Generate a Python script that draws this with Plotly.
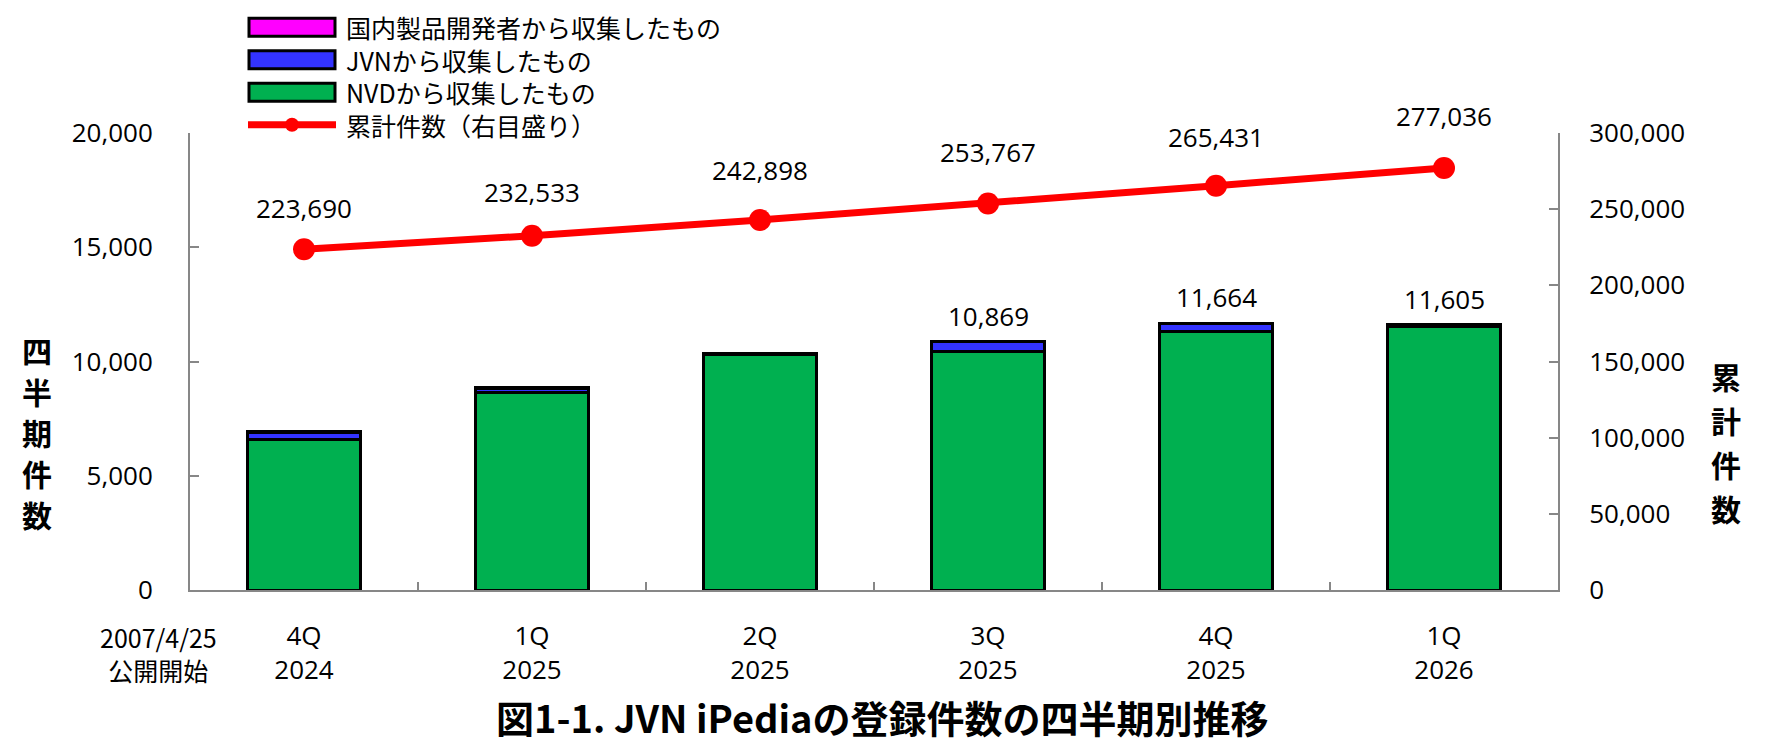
import plotly.graph_objects as go

# ---- data ----
categories = ["4Q<br>2024", "1Q<br>2025", "2Q<br>2025", "3Q<br>2025", "4Q<br>2025", "1Q<br>2026"]
nvd_counts = [6590, 8640, 10300, 10440, 11320, 11520]
jvn_counts = [320, 198, 60, 424, 339, 80]
domestic_counts = [5, 5, 5, 5, 5, 5]
cumulative = [223690, 232533, 242898, 253767, 265431, 277036]
bar_label_text = ["", "", "", "10,869", "11,664", "11,605"]

series_names = ["国内製品開発者から収集したもの", "JVNから収集したもの", "NVDから収集したもの", "累計件数（右目盛り）"]
left_title = "四半期件数"
right_title = "累計件数"
chart_title = "図1-1. JVN iPediaの登録件数の四半期別推移"
start_note = "2007/4/25<br>公開開始"

# ---- style ----
PAGE_W, PAGE_H = 1767, 756
OFF = 8  # default body margin of the html page
L, R, T, B = 190, 1558, 133, 590
NUM_FONT = "Open Sans, Noto Sans CJK JP, sans-serif"
JP_FONT = "Noto Sans CJK JP, sans-serif"
GREEN, BLUE, MAGENTA, RED = "#00B050", "#3333FF", "#FF00FF", "#FF0000"
AXIS = "#878787"
cum_label_shift = [41, 44, 50, 51, 49, 52]
LEG_FONT = 25
LEG_PITCH = 1.3 * LEG_FONT
LEG_MID = 76


def xp(px):
    return (px - L) / (R - L)


def yp(py):
    return (B - py) / (B - T)


fig = go.Figure()
fig.add_trace(go.Bar(x=categories, y=nvd_counts, name=series_names[2],
                     marker=dict(color=GREEN, line=dict(color="black", width=3)),
                     showlegend=False, hoverinfo="skip"))
fig.add_trace(go.Bar(x=categories, y=jvn_counts, name=series_names[1],
                     marker=dict(color=BLUE, line=dict(color="black", width=3)),
                     showlegend=False, hoverinfo="skip"))
fig.add_trace(go.Bar(x=categories, y=domestic_counts, name=series_names[0],
                     marker=dict(color=MAGENTA, line=dict(color="black", width=3)),
                     showlegend=False, hoverinfo="skip"))
fig.add_trace(go.Scatter(x=categories, y=cumulative, yaxis="y2", mode="lines+markers",
                         name=series_names[3],
                         line=dict(color=RED, width=7),
                         marker=dict(color=RED, size=22),
                         showlegend=False, hoverinfo="skip"))

annotations = []
# cumulative labels
for c, v, s in zip(categories, cumulative, cum_label_shift):
    annotations.append(dict(x=c, y=v, xref="x", yref="y2", text=f"{v:,}", showarrow=False,
                            yshift=s, font=dict(family=NUM_FONT, size=26, color="black")))
# bar total labels
for c, n, j, d, t in zip(categories, nvd_counts, jvn_counts, domestic_counts, bar_label_text):
    if t:
        annotations.append(dict(x=c, y=n + j + d, xref="x", yref="y", text=t, showarrow=False,
                                yshift=26, font=dict(family=NUM_FONT, size=26, color="black")))

# axis titles (vertical stacked characters)
for i, ch in enumerate(left_title):
    annotations.append(dict(x=xp(37), y=yp(350 + 41 * i), xref="paper", yref="paper", text=ch,
                            showarrow=False, xanchor="center", yanchor="middle",
                            font=dict(family=JP_FONT, size=30, color="black", weight="bold")))
for i, ch in enumerate(right_title):
    annotations.append(dict(x=xp(1726), y=yp(376 + 44 * i), xref="paper", yref="paper", text=ch,
                            showarrow=False, xanchor="center", yanchor="middle",
                            font=dict(family=JP_FONT, size=30, color="black", weight="bold")))

# start note
annotations.append(dict(x=xp(158), y=yp(653), xref="paper", yref="paper", text=start_note,
                        showarrow=False, xanchor="center", yanchor="middle", align="center",
                        font=dict(family=JP_FONT, size=25, color="black")))
# chart title
annotations.append(dict(x=xp(882), y=yp(716), xref="paper", yref="paper", text=chart_title,
                        showarrow=False, xanchor="center", yanchor="middle",
                        font=dict(family=JP_FONT, size=38, color="black", weight="bold")))

# manual legend (one text block, swatches aligned with its lines)
shapes = []
row_y = [LEG_MID + (i - 1.5) * LEG_PITCH for i in range(4)]
swatch_colors = [MAGENTA, BLUE, GREEN]
for cy, col in zip(row_y[:3], swatch_colors):
    shapes.append(dict(type="rect", xref="paper", yref="paper",
                       x0=xp(249), x1=xp(335), y0=yp(cy - 9), y1=yp(cy + 9),
                       fillcolor=col, line=dict(color="black", width=3)))
cy = row_y[3]
shapes.append(dict(type="line", xref="paper", yref="paper", x0=xp(248), x1=xp(336),
                   y0=yp(cy), y1=yp(cy), line=dict(color=RED, width=7)))
shapes.append(dict(type="circle", xref="paper", yref="paper", x0=xp(285), x1=xp(299),
                   y0=yp(cy - 7), y1=yp(cy + 7), fillcolor=RED, line=dict(color=RED, width=0)))
annotations.append(dict(x=xp(344), y=yp(LEG_MID), xref="paper", yref="paper",
                        text="<br>".join(series_names), align="left",
                        showarrow=False, xanchor="left", yanchor="middle",
                        font=dict(family=JP_FONT, size=LEG_FONT, color="black")))

fig.update_layout(
    width=PAGE_W - OFF, height=PAGE_H - OFF,
    margin=dict(l=L - OFF, r=PAGE_W - R, t=T - OFF, b=PAGE_H - B, pad=0),
    paper_bgcolor="white", plot_bgcolor="white",
    barmode="stack", bargap=0.505,
    showlegend=False,
    font=dict(family=NUM_FONT, size=26, color="black"),
    xaxis=dict(showgrid=False, showline=True, linecolor=AXIS, linewidth=2,
               ticks="inside", tickson="boundaries", ticklen=8, tickcolor=AXIS, tickwidth=2,
               tickfont=dict(family=NUM_FONT, size=26, color="black"),
               ticklabelstandoff=22, zeroline=False, automargin=False),
    yaxis=dict(range=[0, 20000], dtick=5000, tickformat=",d", showgrid=False,
               showline=True, linecolor=AXIS, linewidth=2, ticks="inside", ticklen=9,
               tickcolor=AXIS, tickwidth=2, zeroline=False, automargin=False,
               tickfont=dict(family=NUM_FONT, size=26, color="black"), ticklabelstandoff=30),
    yaxis2=dict(range=[0, 300000], dtick=50000, tickformat=",d", overlaying="y", side="right",
                showgrid=False, showline=True, linecolor=AXIS, linewidth=2, ticks="inside",
                ticklen=9, tickcolor=AXIS, tickwidth=2, zeroline=False, automargin=False,
                tickfont=dict(family=NUM_FONT, size=26, color="black"), ticklabelstandoff=24),
    annotations=annotations,
    shapes=shapes,
)

fig.write_html("out.html")
